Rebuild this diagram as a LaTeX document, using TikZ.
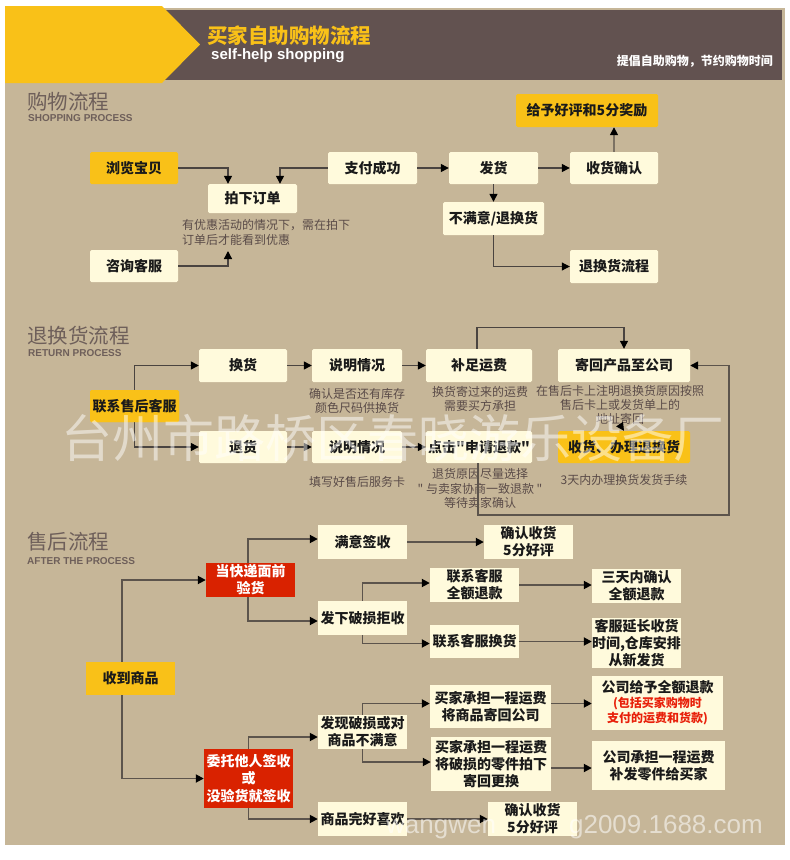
\documentclass[tikz,border=0pt]{standalone}
\usepackage{fontspec}
\setmainfont{Noto Sans CJK SC}[Ligatures=TeXOff]
\newfontfamily\lat{Liberation Sans}
\usetikzlibrary{arrows.meta}
\definecolor{tanbg}{HTML}{C6B698}
\definecolor{hdrbrown}{HTML}{625250}
\definecolor{gold}{HTML}{F9C118}
\definecolor{cream}{HTML}{FFFADC}
\definecolor{redbox}{HTML}{D92200}
\definecolor{sectc}{HTML}{6E5F5A}
\definecolor{notec}{HTML}{5A4B48}
\definecolor{linec}{HTML}{4A4440}
\definecolor{linec2}{HTML}{5C544C}
\definecolor{txtc}{HTML}{1A1A1A}
\definecolor{redtxt}{HTML}{E8200A}
\tikzset{
  boxbase/.style={inner sep=0pt, align=center, text=txtc, font=\fontsize{14}{17}\selectfont\bfseries},
  cbox/.style={boxbase, fill=cream, rounded corners=1.5pt},
  ybox/.style={boxbase, fill=gold, rounded corners=1.5pt},
  sbox/.style={boxbase, fill=cream},
  sybox/.style={boxbase, fill=gold},
  rbox/.style={boxbase, fill=redbox, text=white},
  notetxt/.style={inner sep=0pt, align=center, text=notec, font=\fontsize{12}{14}\selectfont},
  secttitle/.style={inner sep=0pt, anchor=west, text=sectc, font=\fontsize{20.5}{22}\selectfont},
  sectsub/.style={inner sep=0pt, anchor=west, text=sectc, font=\lat\bfseries\fontsize{10}{11}\selectfont},
  arr/.style={draw=linec, line width=1.3pt, -{Triangle[length=8pt,width=8pt,color=black]}},
  arrb/.style={draw=linec2, line width=1.8pt, -{Triangle[length=8pt,width=8pt,color=black]}},
  arrl/.style={draw=linec!60!tanbg, line width=1.6pt, -{Triangle[length=8pt,width=8pt,color=black]}},
}
\begin{document}
\begin{tikzpicture}[x=1pt,y=-1pt]
\useasboundingbox (0,0) rectangle (790,860);
\fill[white] (0,0) rectangle (790,860);
% background
\fill[tanbg] (5,8) rectangle (785,845);
\fill[hdrbrown] (162,10) rectangle (782,80);
\fill[gold] (5,6) -- (162,6) -- (200,44.5) -- (162,83) -- (5,83) -- cycle;
% header texts
\node[inner sep=0pt, anchor=west, text=gold, font=\fontsize{20.5}{22}\selectfont\bfseries] (title) at (207,36) {买家自助购物流程};
\node[inner sep=0pt, anchor=west, text=white, font=\lat\bfseries\fontsize{15}{16}\selectfont] (subtitle) at (211,55.5) {self-help shopping};
\node[inner sep=0pt, anchor=east, text=white, font=\fontsize{12}{13}\selectfont\bfseries] (slogan) at (773,61) {提倡自助购物，节约购物时间};

% ===== Shopping process =====
\node[secttitle] (t1) at (27,102) {购物流程};
\node[sectsub] (s1) at (28,118) {SHOPPING PROCESS};

\node[ybox, minimum width=88pt, minimum height=32pt] (browse) at (134,168) {浏览宝贝};
\node[cbox, minimum width=89pt, minimum height=29pt] (order) at (252.5,198.5) {拍下订单};
\node[cbox, minimum width=88pt, minimum height=32pt] (consult) at (134,266) {咨询客服};
\node[cbox, minimum width=89pt, minimum height=32pt] (pay) at (372.5,168) {支付成功};
\node[cbox, minimum width=89pt, minimum height=32pt] (ship) at (493.5,168) {发货};
\node[cbox, minimum width=88pt, minimum height=32pt] (confirm) at (614,168) {收货确认};
\node[ybox, minimum width=142pt, minimum height=33pt] (praise) at (587,110.5) {给予好评和5分奖励};
\node[cbox, minimum width=101pt, minimum height=33pt] (unhappy) at (493.5,218.5) {不满意/退换货};
\node[cbox, minimum width=88pt, minimum height=33pt] (retflow) at (614,266.5) {退换货流程};
\node[notetxt, anchor=west, align=left, font=\fontsize{12}{15}\selectfont] (note1) at (182,232.5) {有优惠活动的情况下，需在拍下\\订单后才能看到优惠};
\coordinate (cnt) at (228,251);

\draw[arr] (browse.east) -| ([xshift=-24.5pt]order.north);
\draw[arr] (pay.west) -| ([xshift=27.5pt]order.north);
\draw[arr] (consult.east) -| (cnt);
\draw[arr] (pay.east) -- (ship.west);
\draw[arr] (ship.east) -- (confirm.west);
\draw[arrl] (confirm.north) -- (confirm.north |- praise.south);
\draw[arr] (ship.south) -- (unhappy.north);
\draw[arr, line width=1pt] (unhappy.south) |- (retflow.west);

% ===== Return process =====
\node[secttitle] (t2) at (27,336) {退换货流程};
\node[sectsub] (s2) at (28,353) {RETURN PROCESS};

\node[ybox, minimum width=89pt, minimum height=32pt] (contact) at (134.5,406) {};
\node[cbox, minimum width=88pt, minimum height=33pt] (exch) at (243,365.5) {换货};
\node[cbox, minimum width=90pt, minimum height=33pt] (expl1) at (357,365.5) {说明情况};
\node[cbox, minimum width=106pt, minimum height=33pt] (fee) at (479,365.5) {补足运费};
\node[cbox, minimum width=132pt, minimum height=33pt] (sendback) at (624,365.5) {寄回产品至公司};
\node[cbox, minimum width=88pt, minimum height=32pt] (refund) at (243,447) {退货};
\node[cbox, minimum width=90pt, minimum height=32pt] (expl2) at (357,447) {说明情况};
\node[cbox, minimum width=106pt, minimum height=32pt] (apply) at (479,447) {点击"申请退款"};
\node[ybox, minimum width=132pt, minimum height=32pt] (receive) at (624,447) {收货、办理退换货};

\node[notetxt] (n2a) at (357,401) {确认是否还有库存\\颜色尺码供换货};
\node[notetxt] (n2b) at (480,399) {换货寄过来的运费\\需要买方承担};
\node[notetxt] (n2c) at (620,405) {在售后卡上注明退换货原因按照\\售后卡上或发货单上的\\地址寄回};
\node[notetxt] (n2d) at (357,482) {填写好售后服务卡};
\node[notetxt, font=\fontsize{12}{14.5}\selectfont] (n2e) at (480,488.5) {退货原因尽量选择\\" 与卖家协商一致退款 "\\等待卖家确认};
\node[notetxt] (n2f) at (624,480) {3天内办理换货发货手续};

\draw[arr] (contact.north) |- (exch.west);
\draw[arr] (contact.south) |- (refund.west);
\node[ybox, minimum width=89pt, minimum height=32pt] (contacttxt) at (134.5,406) {联系售后客服};
\draw[arr] (exch.east) -- (expl1.west);
\draw[arr] (expl1.east) -- (fee.west);
\draw[arr] (refund.east) -- (expl2.west);
\draw[arr] (expl2.east) -- (apply.west);
\draw[arr, line width=1.2pt] ([xshift=-2pt]fee.north) -- ++(0,-21) -| (sendback.north);
\draw[arr, line width=1pt] (n2c.south) -- (receive.north);
\draw[arr, draw=linec2, line width=1.6pt] ([xshift=-1pt]apply.south) -- ++(0,52) -- ++(251,0) |- (sendback.east);

% ===== After-sale process =====
\node[secttitle] (t3) at (27,542) {售后流程};
\node[sectsub] (s3) at (27,561) {AFTER THE PROCESS};

\node[sybox, minimum width=89pt, minimum height=33pt] (received) at (130.5,678.5) {收到商品};
\node[rbox, minimum width=89pt, minimum height=34pt] (inspect) at (250.5,580) {当快递面前\\验货};
\node[sbox, minimum width=89pt, minimum height=34pt] (satisfied) at (362.5,542) {满意签收};
\node[sbox, minimum width=89pt, minimum height=34pt] (reject) at (362.5,618) {发下破损拒收};
\node[sbox, minimum width=89pt, minimum height=34pt] (confirm1) at (528.5,542) {确认收货\\5分好评};
\node[sbox, minimum width=89pt, minimum height=34pt] (cs1) at (474.5,585) {联系客服\\全额退款};
\node[sbox, minimum width=89pt, minimum height=34pt] (r3) at (636.5,586) {三天内确认\\全额退款};
\node[sbox, minimum width=89pt, minimum height=33pt] (cs2) at (474.5,641.5) {联系客服换货};
\node[sbox, minimum width=89pt, minimum height=50pt] (delay) at (636.5,643) {客服延长收货\\时间,仓库安排\\从新发货};
\node[rbox, minimum width=89pt, minimum height=59pt, font=\fontsize{14}{17.5}\selectfont\bfseries] (entrust) at (248.5,778.5) {委托他人签收\\或\\没验货就签收};
\node[sbox, minimum width=89pt, minimum height=34pt] (damaged) at (362.5,732) {发现破损或对\\商品不满意};
\node[sbox, minimum width=89pt, minimum height=34pt] (intact) at (362.5,819) {商品完好喜欢};
\node[sbox, minimum width=121pt, minimum height=43pt] (buyer1) at (490.5,706.5) {买家承担一程运费\\将商品寄回公司};
\node[sbox, minimum width=131pt, minimum height=54pt] (full) at (657.5,703) {公司给予全额退款\\[-2pt]\textcolor{redtxt}{\fontsize{12}{14}\selectfont(包括买家购物时}\\[-2pt]\textcolor{redtxt}{\fontsize{12}{14}\selectfont 支付的运费和货款)}};
\node[sbox, minimum width=120pt, minimum height=54pt] (buyer2) at (491,764) {买家承担一程运费\\将破损的零件拍下\\寄回更换};
\node[sbox, minimum width=133pt, minimum height=49pt] (company) at (658.5,765.5) {公司承担一程运费\\补发零件给买家};
\node[sbox, minimum width=89pt, minimum height=34pt] (confirm2) at (532.5,819) {确认收货\\5分好评};

\draw[arrb] ([xshift=-8.5pt]received.north) |- (inspect.west);
\draw[arrb] ([xshift=-8.5pt]received.south) |- (entrust.west);
\draw[arrb] ([xshift=-2.5pt]inspect.north) |- ([yshift=3pt]satisfied.west);
\draw[arrb] ([xshift=-2.5pt]inspect.south) |- ([yshift=-3pt]reject.west);
\draw[arrb] (reject.north) |- ([yshift=2pt]cs1.west);
\draw[arrb] (reject.south) |- ([yshift=-2pt]cs2.west);
\draw[arrb] (satisfied.east) -- (confirm1.west);
\draw[arrb] (cs1.east) -- (cs1.east -| r3.west);
\draw[arrb] (cs2.east) -- (cs2.east -| delay.west);
\draw[arrb] (entrust.north) |- ([yshift=-5pt]damaged.west);
\draw[arrb] (entrust.south) |- (intact.west);
\draw[arrb] (damaged.north) |- ([yshift=3pt]buyer1.west);
\draw[arrb] (damaged.south) |- ([yshift=2pt]buyer2.west);
\draw[arrb] ([yshift=3pt]buyer1.east) -- ([yshift=3pt]buyer1.east -| full.west);
\draw[arrb] ([yshift=-4pt]buyer2.east) -- ([yshift=-4pt]buyer2.east -| company.west);
\draw[arrb] (intact.east) -- (confirm2.west);

% redraw box tops over lines passing through
\node[sybox, minimum width=89pt, minimum height=33pt] (receivedtop) at (130.5,678.5) {收到商品};
\node[rbox, minimum width=89pt, minimum height=34pt] (inspecttop) at (250.5,580) {当快递面前\\验货};
\node[rbox, minimum width=89pt, minimum height=59pt, font=\fontsize{14}{17.5}\selectfont\bfseries] (entrusttop) at (248.5,778.5) {委托他人签收\\或\\没验货就签收};
\node[sbox, minimum width=89pt, minimum height=34pt] (rejecttop) at (362.5,618) {发下破损拒收};
\node[sbox, minimum width=89pt, minimum height=34pt] (damagedtop) at (362.5,732) {发现破损或对\\商品不满意};

% watermarks
\node[inner sep=0pt, text=white, opacity=0.5, font=\fontsize{51}{51}\selectfont] (wm1) at (393,438) {台州市路桥区春晓游乐设备厂};
\node[inner sep=0pt, anchor=base west, text=white, opacity=0.55, font=\lat\fontsize{26}{26}\selectfont] (wm2) at (386,833) {wangwen};
\node[inner sep=0pt, anchor=base east, text=white, opacity=0.55, font=\lat\fontsize{26}{26}\selectfont] (wm3) at (763,833) {g2009.1688.com};
\end{tikzpicture}
\end{document}
